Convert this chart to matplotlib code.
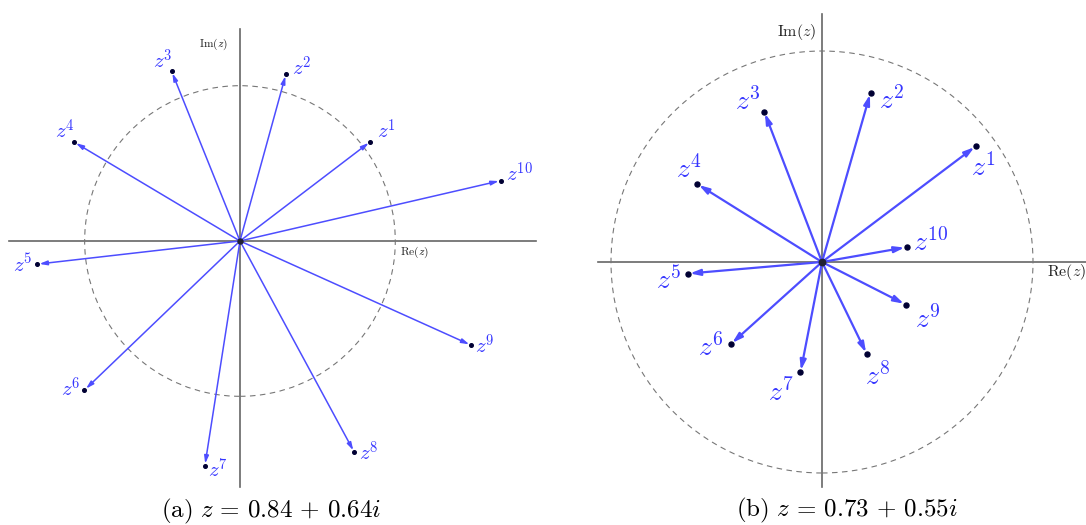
import matplotlib
matplotlib.use('Agg')
import matplotlib.pyplot as plt

plt.rcParams['mathtext.fontset'] = 'cm'

powers = list(range(1, 11))

re_a = [0.84, 0.296, -0.440, -1.068, -1.305, -1.001, -0.226, 0.736, 1.489, 1.680]
im_a = [0.64, 1.075, 1.093, 0.637, -0.149, -0.960, -1.447, -1.360, -0.671, 0.389]

re_b = [0.73, 0.230, -0.274, -0.592, -0.636, -0.433, -0.102, 0.213, 0.397, 0.401]
im_b = [0.55, 0.803, 0.713, 0.370, -0.055, -0.390, -0.523, -0.438, -0.202, 0.070]

caption_a = r'$\mathrm{(a)}\ z\,=\,0.84\,+\,0.64i$'
caption_b = r'$\mathrm{(b)}\ z\,=\,0.73\,+\,0.55i$'

# label offsets in pixels (style only)
off_a = [(16, 11), (16, 6), (-9, 11), (-9, 11), (-14, 0),
         (-14, 1), (13, -4), (15, -1), (14, -1), (19, 7)]
off_b = [(7, -22), (21, -8), (-16, 10), (-8, 14), (-19, -7),
         (-20, -3), (-19, -20), (11, -22), (22, -15), (24, 5)]

ARROW = '#4d4dff'
TEXT = '#3636ff'
DOT = '#000033'
AXIS = '#666666'

fig = plt.figure(figsize=(10.86, 5.25), dpi=100)


def draw_panel(ax, re, im, offs, xlim, ylim, lw, ms, fs, head, small_fs, im_pos, re_pos):
    ax.set_xlim(*xlim)
    ax.set_ylim(*ylim)
    ax.axis('off')

    # axes of the complex plane
    ax.plot(xlim, [0, 0], color=AXIS, lw=1.2, clip_on=False, zorder=1)
    ax.plot([0, 0], ylim, color=AXIS, lw=1.2, clip_on=False, zorder=1)

    # unit circle
    circ = plt.Circle((0, 0), 1.0, fill=False, color='#777777', lw=0.8,
                      ls=(0, (5, 4)), zorder=1)
    ax.add_patch(circ)

    for k, x, y, o in zip(powers, re, im, offs):
        ax.annotate('', xy=(x, y), xytext=(0, 0),
                    arrowprops=dict(arrowstyle='-|>,head_length=%.2f,head_width=%.2f' % head,
                                    color=ARROW, lw=lw, shrinkA=0, shrinkB=1.5,
                                    mutation_scale=10), zorder=2)
        ax.plot(x, y, 'o', color=DOT, ms=ms, zorder=3)
        ax.annotate(r'$z^{%d}$' % k, xy=(x, y), xytext=o, textcoords='offset pixels',
                    ha='center', va='center', color=TEXT, fontsize=fs)

    ax.plot(0, 0, 'o', color='#222233', ms=ms + 1, zorder=3)
    ax.text(im_pos[0], im_pos[1], r'$\mathrm{Im}(z)$', ha='right', va='center',
            fontsize=small_fs, color='#222222')
    ax.text(re_pos[0], re_pos[1], r'$\mathrm{Re}(z)$', ha='left', va='center',
            fontsize=small_fs, color='#222222')


ax_a = fig.add_axes([9 / 1086, 38 / 525, 527 / 1086, 458 / 525])
draw_panel(ax_a, re_a, im_a, off_a, (-1.487, 1.906), (-1.584, 1.365),
           lw=1.1, ms=2.6, fs=15, head=(0.45, 0.13), small_fs=8.3,
           im_pos=(-0.08, 1.268), re_pos=(1.03, -0.071))

ax_b = fig.add_axes([598 / 1086, 38 / 525, 488 / 1086, 473 / 525])
draw_panel(ax_b, re_b, im_b, off_b, (-1.0616, 1.2512), (-1.0664, 1.1754),
           lw=1.6, ms=3.6, fs=20, head=(0.6, 0.18), small_fs=11.5,
           im_pos=(-0.028, 1.09), re_pos=(1.066, -0.047))

fig.text(271 / 1086, 1 - 511 / 525, caption_a, ha='center', va='center', fontsize=18)
fig.text(847 / 1086, 1 - 510 / 525, caption_b, ha='center', va='center', fontsize=18)

fig.savefig('out.png', dpi=100)
